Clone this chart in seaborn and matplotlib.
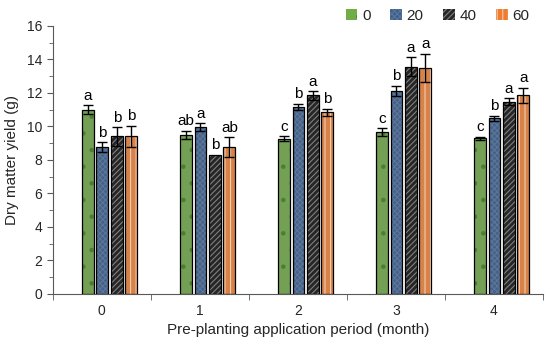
import numpy as np
import pandas as pd
import seaborn as sns
import matplotlib
matplotlib.use("Agg")
from matplotlib import pyplot as plt
from matplotlib.patches import Patch, Rectangle
from matplotlib.ticker import MultipleLocator

# Data
periods = ["0", "1", "2", "3", "4"]
doses = ["0", "20", "40", "60"]
yield_0 = [11.0, 9.5, 9.25, 9.65, 9.28]
yield_20 = [8.75, 9.95, 11.15, 12.12, 10.5]
yield_40 = [9.4, 8.3, 11.85, 13.57, 11.48]
yield_60 = [9.4, 8.75, 10.85, 13.5, 11.86]
err_0 = [0.25, 0.25, 0.15, 0.25, 0.1]
err_20 = [0.3, 0.25, 0.2, 0.3, 0.15]
err_40 = [0.55, 0.0, 0.25, 0.55, 0.2]
err_60 = [0.65, 0.6, 0.2, 0.85, 0.45]
letters_0 = ["a", "ab", "c", "c", "c"]
letters_20 = ["b", "a", "b", "b", "b"]
letters_40 = ["b", "b", "a", "a", "a"]
letters_60 = ["b", "ab", "b", "a", "a"]

values = [yield_0, yield_20, yield_40, yield_60]
errors = [err_0, err_20, err_40, err_60]
letters = [letters_0, letters_20, letters_40, letters_60]

face_colors = ["#70AD47", "#3E5F8A", "#262626", "#ED7D31"]
hatch_colors = ["#4A7F30", "#58779F", "#808080", "#F8CBAD"]
hatches = [".", "xxxxxx", "//////", "|||"]

rows = []
for d, vals in zip(doses, values):
    for p, v in zip(periods, vals):
        rows.append({"period": p, "dose": d, "yield": v})
df = pd.DataFrame(rows)

sns.set_style("ticks")
plt.rcParams["font.family"] = ["Liberation Sans", "DejaVu Sans"]
plt.rcParams["hatch.linewidth"] = 0.8

fig = plt.figure(figsize=(5.5, 3.45), dpi=100)
ax = fig.add_axes([0.096, 0.148, 0.891, 0.777])

sns.barplot(data=df, x="period", y="yield", hue="dose", hue_order=doses,
            order=periods, palette=face_colors, width=0.59, gap=0.18,
            errorbar=None, legend=False, ax=ax)

# bars sit a little right of the category centre in the original
shift = 0.08

# patches are ordered hue by hue
bars = ax.patches[:]
for i, d in enumerate(doses):
    for j in range(len(periods)):
        bar = bars[i * len(periods) + j]
        bar.set_x(bar.get_x() + shift)
        bar.set_hatch(hatches[i])
        bar.set_edgecolor(hatch_colors[i])
        bar.set_linewidth(0)
        x0, w, h = bar.get_x(), bar.get_width(), bar.get_height()
        ax.add_patch(Rectangle((x0, 0), w, h, fill=False, edgecolor="black",
                               linewidth=0.9, zorder=3))
        xc = x0 + w / 2
        e = errors[i][j]
        if e > 0:
            ax.errorbar(xc, h, yerr=e, color="black", capsize=3.5,
                        elinewidth=1.0, capthick=1.0, zorder=4)
        ax.text(xc, h + e + 0.15, letters[i][j], ha="center", va="bottom",
                fontsize=11, color="black")

ax.set_ylim(0, 16)
ax.set_xlim(-0.5, 4.5)
ax.yaxis.set_major_locator(MultipleLocator(2))
ax.yaxis.set_minor_locator(MultipleLocator(1))
ax.set_xticks(np.arange(-0.5, 5, 1), minor=True)
ax.tick_params(axis="x", which="major", length=0, labelsize=10, pad=7)
ax.tick_params(axis="x", which="minor", length=4, direction="out", color="#595959")
ax.tick_params(axis="y", which="both", direction="out", color="#595959", labelsize=10)
ax.tick_params(axis="y", which="major", length=4)
ax.tick_params(axis="y", which="minor", length=3)
sns.despine(ax=ax)
ax.spines["left"].set_color("#595959")
ax.spines["bottom"].set_color("#595959")

ax.set_xlabel("Pre-planting application period (month)", fontsize=11, labelpad=4)
ax.set_ylabel("Dry matter yield (g)", fontsize=11, labelpad=6)

handles = [Patch(facecolor=face_colors[i], edgecolor=hatch_colors[i], hatch=hatches[i],
                 linewidth=0) for i in range(len(doses))]
ax.legend(handles, doses, ncol=4, frameon=False, loc="upper right",
          bbox_to_anchor=(1.0, 1.115), fontsize=11, handlelength=0.75,
          handleheight=0.75, handletextpad=0.3, columnspacing=1.3)

fig.savefig("out.png", dpi=100)
